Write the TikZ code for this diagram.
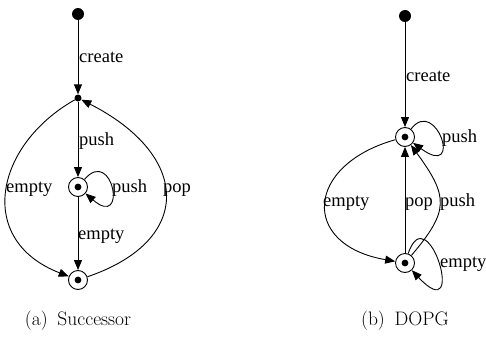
\documentclass[tikz,border=0pt]{standalone}
\usepackage{fontspec}
\usetikzlibrary{arrows.meta}
\newfontfamily\lblfont{Liberation Serif}
\begin{document}
\begin{tikzpicture}[x=1pt,y=-1pt,
  init/.style={circle,fill=black,inner sep=0pt,minimum size=12pt},
  junc/.style={circle,fill=black,inner sep=0pt,minimum size=7pt},
  acc/.style={circle,draw=black,line width=0.9pt,fill=white,inner sep=0pt,minimum size=19pt,
    path picture={\fill[black] (path picture bounding box.center) circle (3.4pt);}},
  edge/.style={draw=black,line width=0.9pt,-{Triangle[length=10pt,width=8pt]}},
  lbl/.style={anchor=base west,inner sep=0pt,font=\lblfont\fontsize{18.5}{20}\selectfont},
  subcap/.style={anchor=base,inner sep=0pt,font=\fontsize{19.5}{22}\selectfont}]
\useasboundingbox (0,0) rectangle (486,337);

% ---- Successor automaton ----
\node[init] (a0) at (78,14) {};
\node[junc] (a1) at (78,98) {};
\node[acc]  (a2) at (78,187) {};
\node[acc]  (a3) at (78,280) {};

\draw[edge] (a0) -- (a1);
\draw[edge] (a1) -- (a2);
\draw[edge] (a2) .. controls (113,146) and (128,230) .. (a2);
\draw[edge] (a2) -- (a3);
\draw[edge] (a1) .. controls (-5,145) and (-25,240) .. (a3);
\draw[edge] (a3) .. controls (195,240) and (190,155) .. (a1);

\node[lbl] (la0) at (79,63)  {create};
\node[lbl] (la1) at (79,145) {push};
\node[lbl] (la2) at (112,192) {push};
\node[lbl] (la3) at (78,239) {empty};
\node[lbl] (la4) at (6,192)  {empty};
\node[lbl] (la5) at (163,192) {pop};

\node[subcap] (capa) at (78,325) {(a)\hspace{0.5em}Successor};

% ---- DOPG automaton ----
\node[init] (b0) at (405,16) {};
\node[acc]  (b1) at (405,137) {};
\node[acc]  (b2) at (405,263) {};

\draw[edge] (b0) -- (b1);
\draw[edge] (b1) .. controls (436,96) and (464,180) .. (b1);
\draw[edge] (b2) -- (b1);
\draw[edge] (b2) .. controls (449,211) and (449,197) .. (b1);
\draw[edge] (b1) .. controls (305,165) and (300,245) .. (b2);
\draw[edge] (b2) .. controls (428,195) and (468,330) .. (b2);

\node[lbl] (lb0) at (406,81)  {create};
\node[lbl] (lb1) at (442,142) {push};
\node[lbl] (lb2) at (323,206) {empty};
\node[lbl] (lb3) at (405,206) {pop};
\node[lbl] (lb4) at (440,206) {push};
\node[lbl] (lb5) at (440,267) {empty};

\node[subcap] (capb) at (405,325) {(b)\hspace{0.5em}DOPG};
\end{tikzpicture}
\end{document}
